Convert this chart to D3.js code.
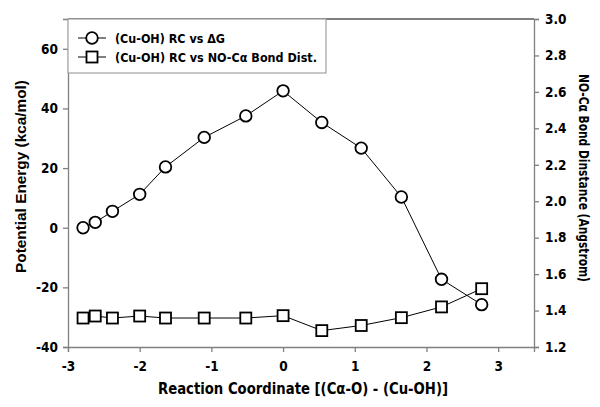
<!DOCTYPE html>
<html>
<head>
<meta charset="utf-8">
<script src="https://cdn.jsdelivr.net/npm/d3@7"></script>
<style>
  body { margin: 0; background: #fff; }
  text { font-family: "DejaVu Sans", Verdana, sans-serif; font-weight: bold; }
  .cond { font-family: "DejaVu Sans Condensed", "DejaVu Sans", sans-serif; font-stretch: condensed; }
</style>
</head>
<body>
<div id="chart"></div>
<script>
// reaction coordinate values (shared by both series)
const coords = [-2.79, -2.62, -2.38, -2.0, -1.64, -1.1, -0.52, 0.0, 0.54, 1.09, 1.65, 2.21, 2.77];
// potential energy, kcal/mol (left axis)
const energy = [0, 1.8, 5.5, 11.2, 20.4, 30.3, 37.5, 45.9, 35.3, 26.7, 10.3, -17.3, -25.8];
// NO-Ca bond distance, Angstrom (right axis)
const bondDist = [1.359, 1.37, 1.359, 1.37, 1.359, 1.359, 1.359, 1.372, 1.29, 1.318, 1.361, 1.42, 1.52];

const xTicks = [-3, -2, -1, 0, 1, 2, 3];
const yTicks = [-40, -20, 0, 20, 40, 60];
const y2Ticks = [1.2, 1.4, 1.6, 1.8, 2.0, 2.2, 2.4, 2.6, 2.8, 3.0];

const seriesNames = ["(Cu-OH) RC vs \u0394G", "(Cu-OH) RC vs NO-C\u03b1 Bond Dist."];

const W = 600, H = 407;
const MARGIN = { TOP: 19, RIGHT: 66, BOTTOM: 60, LEFT: 68 };
const WIDTH = W - MARGIN.LEFT - MARGIN.RIGHT;
const HEIGHT = H - MARGIN.TOP - MARGIN.BOTTOM;
const AXIS_GREY = "#808080";

const svg = d3.select("#chart")
  .append("svg")
  .attr("width", W)
  .attr("height", H);

const g = svg.append("g")
  .attr("transform", `translate(${MARGIN.LEFT}, ${MARGIN.TOP})`);

const xScale = d3.scaleLinear().domain([-3, 3.5]).range([0, WIDTH]);
const yScale = d3.scaleLinear().domain([-40, 70]).range([HEIGHT, 0]);
const y2Scale = d3.scaleLinear().domain([1.2, 3.0]).range([HEIGHT, 0]);

// top frame line
g.append("line")
  .attr("x1", 0).attr("x2", WIDTH)
  .attr("y1", 0).attr("y2", 0)
  .attr("stroke", "#000").attr("stroke-width", 1);

function styleAxis(sel) {
  sel.select(".domain").attr("stroke", AXIS_GREY).attr("stroke-width", 1.3);
  sel.selectAll(".tick line").attr("stroke", AXIS_GREY).attr("stroke-width", 1.3);
  sel.selectAll(".tick text")
    .attr("class", "cond")
    .attr("fill", "#000")
    .style("font-size", "13.5px")
    .style("font-weight", "bold");
}

g.append("g")
  .attr("transform", `translate(0, ${HEIGHT})`)
  .call(d3.axisBottom(xScale).tickValues(xTicks).tickSizeOuter(0).tickSize(5).tickPadding(9).tickFormat(d3.format("d")))
  .call(styleAxis);

g.append("g")
  .call(d3.axisLeft(yScale).tickValues(yTicks).tickSizeOuter(0).tickSize(5).tickPadding(5).tickFormat(d3.format("d")))
  .call(styleAxis);

g.append("g")
  .attr("transform", `translate(${WIDTH}, 0)`)
  .call(d3.axisRight(y2Scale).tickValues(y2Ticks).tickSizeOuter(0).tickSize(5).tickPadding(6).tickFormat(d3.format(".1f")))
  .call(styleAxis);

// minus signs as plain hyphen
g.selectAll(".tick text").text(function () { return this.textContent.replace("\u2212", "-"); });

// axis titles
svg.append("text")
  .attr("class", "cond")
  .attr("x", 303)
  .attr("y", 394)
  .attr("text-anchor", "middle")
  .attr("textLength", 290)
  .attr("lengthAdjust", "spacingAndGlyphs")
  .style("font-size", "15px")
  .text("Reaction Coordinate [(C\u03b1-O) - (Cu-OH)]");

svg.append("text")
  .attr("transform", "translate(26, 176.5) rotate(-90)")
  .attr("text-anchor", "middle")
  .attr("textLength", 193)
  .attr("lengthAdjust", "spacingAndGlyphs")
  .style("font-family", "'Liberation Sans', Arial, sans-serif")
  .style("font-size", "14px")
  .text("Potential Energy (kca/mol)");

svg.append("text")
  .attr("class", "cond")
  .attr("transform", "translate(579, 178) rotate(90)")
  .attr("text-anchor", "middle")
  .attr("textLength", 208)
  .attr("lengthAdjust", "spacingAndGlyphs")
  .style("font-size", "13.5px")
  .text("NO-C\u03b1 Bond Dinstance (Angstrom)");

// series data
const energyData = coords.map((c, i) => ({ x: c, y: energy[i] }));
const bondData = coords.map((c, i) => ({ x: c, y: bondDist[i] }));

const energyLine = d3.line().x(d => xScale(d.x)).y(d => yScale(d.y));
const bondLine = d3.line().x(d => xScale(d.x)).y(d => y2Scale(d.y));

g.append("path")
  .datum(energyData)
  .attr("d", energyLine)
  .attr("fill", "none").attr("stroke", "#000").attr("stroke-width", 1);

g.append("path")
  .datum(bondData)
  .attr("d", bondLine)
  .attr("fill", "none").attr("stroke", "#000").attr("stroke-width", 1);

const R = 5.8, S = 11, MARK_STROKE = 1.8;

g.selectAll(".sq")
  .data(bondData)
  .join("rect")
  .attr("class", "sq")
  .attr("x", d => xScale(d.x) - S / 2)
  .attr("y", d => y2Scale(d.y) - S / 2)
  .attr("width", S).attr("height", S)
  .attr("fill", "#fff").attr("stroke", "#000").attr("stroke-width", MARK_STROKE);

g.selectAll(".dot")
  .data(energyData)
  .join("circle")
  .attr("class", "dot")
  .attr("cx", d => xScale(d.x))
  .attr("cy", d => yScale(d.y))
  .attr("r", R)
  .attr("fill", "#fff").attr("stroke", "#000").attr("stroke-width", MARK_STROKE);

// legend
const legend = g.append("g").attr("class", "legend");
legend.append("rect")
  .attr("x", 0).attr("y", 0)
  .attr("width", 258).attr("height", 54)
  .attr("fill", "#fff").attr("stroke", "#a0a0a0").attr("stroke-width", 1.2);

const legendTextLen = [110, 202];
seriesNames.forEach((name, i) => {
  const ly = 19 + i * 19;
  const row = legend.append("g").attr("transform", `translate(0, ${ly})`);
  row.append("line")
    .attr("x1", 10).attr("x2", 38)
    .attr("y1", 0).attr("y2", 0)
    .attr("stroke", "#000").attr("stroke-width", 1);
  if (i === 0) {
    row.append("circle").attr("cx", 24).attr("cy", 0).attr("r", R)
      .attr("fill", "#fff").attr("stroke", "#000").attr("stroke-width", MARK_STROKE);
  } else {
    row.append("rect").attr("x", 24 - S / 2).attr("y", -S / 2).attr("width", S).attr("height", S)
      .attr("fill", "#fff").attr("stroke", "#000").attr("stroke-width", MARK_STROKE);
  }
  row.append("text")
    .attr("x", 47).attr("y", 4.5)
    .attr("textLength", legendTextLen[i])
    .attr("lengthAdjust", "spacingAndGlyphs")
    .style("font-size", "12.5px")
    .text(name);
});
</script>
</body>
</html>
